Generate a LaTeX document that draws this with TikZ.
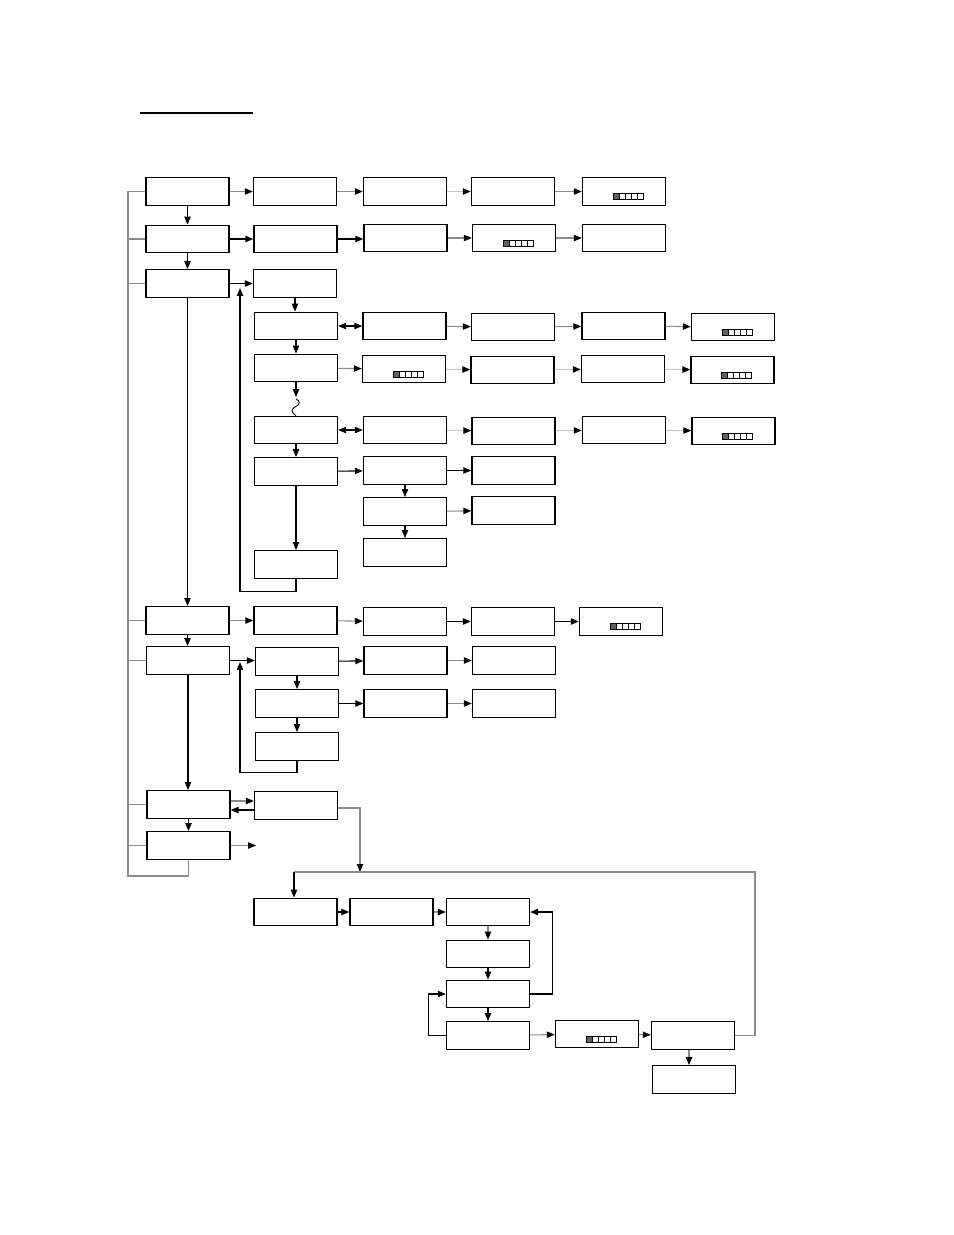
\documentclass[tikz,border=0pt]{standalone}
\usetikzlibrary{arrows.meta, calc}
\definecolor{lngray}{RGB}{140,140,140}
\definecolor{lnlight}{RGB}{200,200,200}
\definecolor{gaugegray}{RGB}{96,96,96}

\tikzset{
  box/.style={draw, line width=0.8pt, minimum width=1.66cm, minimum height=0.55cm, inner sep=0pt},
  arr/.style={line width=0.6pt, -{Triangle[length=4.5pt, width=3.6pt, color=black]}},
  garr/.style={arr, lngray},
  larr/.style={arr, lnlight},
  dbl/.style={line width=0.6pt, {Triangle[length=4.5pt, width=3.6pt, color=black]}-{Triangle[length=4.5pt, width=3.6pt, color=black]}},
  trunk/.style={line width=0.9pt, lngray},
  gauge/.pic={
    \fill[gaugegray] (-11,2) rectangle (-5,8);
    \foreach \i in {0,...,4}
      \draw[line width=0.5pt] ({-11+6*\i},2) rectangle ++(6,6);
  }
}

\begin{document}
\begin{tikzpicture}[x=0.02cm, y=-0.02cm]
  \useasboundingbox (0,0) rectangle (954,1235);

  % title rule
  \draw[line width=1.1pt] (140,113) -- (253,113);

  % --- Main column ---
  \node[box] (L1) at (187.5,191.5) {};
  \node[box] (L2) at (187.5,239) {};
  \node[box] (L3) at (187.5,283.5) {};
  \node[box] (L4) at (187.5,620.5) {};
  \node[box] (L5) at (188,660.5) {};
  \node[box] (L6) at (188.5,804.5) {};
  \node[box] (L7) at (188.5,845.5) {};

  \draw[arr] (L1) -- (L2);
  \draw[arr] (L2) -- (L3);
  \draw[arr] (L3) -- (L4);
  \draw[arr] (L4.south) -- (L5.north -| L4.south);
  \draw[arr] (L5.south) -- (L6.north -| L5.south);
  \draw[arr] (L6) -- (L7);

  % trunk on the left
  \coordinate (trunk) at (128,0);
  \draw[trunk] (L7.south) |- (128,876) -- (L1.west -| trunk) -- (L1.west);
  \foreach \n in {L2,L3,L4,L5,L6,L7}
    \draw[trunk] (\n.west -| trunk) -- (\n.west);

  % --- Row 1 ---
  \node[box] (A2) at (295,191.5) {};
  \node[box] (A3) at (405,191.5) {};
  \node[box] (A4) at (513,191.5) {};
  \node[box] (A5) at (624,191.5) {};
  \pic at (A5) {gauge};
  \draw[garr] (L1) -- (A2);
  \draw[garr] (A2) -- (A3);
  \draw[larr] (A3) -- (A4);
  \draw[garr] (A4) -- (A5);

  % --- Row 2 ---
  \node[box] (B2) at (295.5,239) {};
  \node[box] (B3) at (405.5,238) {};
  \node[box] (B4) at (514,238) {};
  \node[box] (B5) at (624,238) {};
  \pic at (B4) {gauge};
  \draw[arr] (L2) -- (B2);
  \draw[arr] (B2.east) -- (B3.west |- B2.east);
  \draw[garr] (B3) -- (B4);
  \draw[garr] (B4) -- (B5);

  % --- Row 3: submenu ---
  \node[box] (C1) at (295,283.5) {};
  \node[box] (C2) at (296,326) {};
  \node[box] (C3) at (296,368) {};
  \node[box] (C4) at (296,430) {};
  \node[box] (C5) at (296,471.5) {};
  \node[box] (C7) at (296,564.5) {};

  \node[box] (D2) at (404.5,326) {};
  \node[box] (E2) at (513,327) {};
  \node[box] (F2) at (623.5,326) {};
  \node[box] (G2) at (733,327) {};
  \pic at (G2) {gauge};

  \node[box] (D3) at (404,369) {};
  \node[box] (E3) at (512.5,370) {};
  \node[box] (F3) at (623,369) {};
  \node[box] (G3) at (732.5,370) {};
  \pic at (D3) {gauge};
  \pic at (G3) {gauge};

  \node[box] (D4) at (405,430) {};
  \node[box] (E4) at (513.5,431) {};
  \node[box] (F4) at (624,430) {};
  \node[box] (G4) at (733.5,431) {};
  \pic at (G4) {gauge};

  \node[box] (D5) at (405,470.5) {};
  \node[box] (E5) at (513.5,470.5) {};
  \node[box] (D6) at (405,511.5) {};
  \node[box] (E6) at (513.5,510.5) {};
  \node[box] (D7) at (405,552.5) {};

  \draw[arr] (L3) -- (C1);
  \draw[arr] (C1.south) -- (C2.north -| C1.south);
  \draw[arr] (C2) -- (C3);
  \coordinate (brk) at (296,397);
  \draw[arr] (C3.south) -- (brk);
  \draw[line width=0.5pt] (296,399) .. controls (301,401) and (300,405) .. (295,407)
    .. controls (291,409) and (291,413) .. (C4.north);
  \draw[arr] (C4) -- (C5);
  \draw[arr] (C5) -- (C7);

  \draw[dbl] (C2) -- (D2);
  \draw[garr] (D2) -- (E2);
  \draw[garr] (E2) -- (F2);
  \draw[garr] (F2) -- (G2);

  \draw[garr] (C3) -- (D3);
  \draw[larr] (D3) -- (E3);
  \draw[larr] (E3) -- (F3);
  \draw[larr] (F3) -- (G3);

  \draw[dbl] (C4) -- (D4);
  \draw[larr] (D4) -- (E4);
  \draw[larr] (E4) -- (F4);
  \draw[larr] (F4) -- (G4);

  \draw[arr] (C5) -- (D5);
  \draw[arr] (D5) -- (E5);
  \draw[arr] (D5) -- (D6);
  \draw[garr] (D6) -- (E6);
  \draw[arr] (D6) -- (D7);

  % back to row 3
  \coordinate (cin) at (240,288);
  \draw[arr] (C7.south) -- ++(0,13) -| (cin);

  % --- Row 4 ---
  \node[box] (P2) at (295.5,620.5) {};
  \node[box] (P3) at (405,621.5) {};
  \node[box] (P4) at (513,621.5) {};
  \node[box] (P5) at (621,621.5) {};
  \pic at (P5) {gauge};
  \draw[garr] (L4) -- (P2);
  \draw[garr] (P2) -- (P3);
  \draw[arr] (P3) -- (P4);
  \draw[arr] (P4) -- (P5);

  % --- Row 5 ---
  \node[box] (Q1) at (297,661.5) {};
  \node[box] (Q2) at (297,703.5) {};
  \node[box] (Q3) at (297,746.5) {};
  \node[box] (R1) at (405.5,660.5) {};
  \node[box] (R2) at (514,660.5) {};
  \node[box] (S1) at (405.5,703.5) {};
  \node[box] (S2) at (514,703.5) {};
  \draw[arr] (L5.east) -- (Q1.west |- L5.east);
  \draw[arr] (Q1) -- (Q2);
  \draw[arr] (Q2) -- (Q3);
  \draw[arr] (Q1) -- (R1);
  \draw[garr] (R1) -- (R2);
  \draw[arr] (Q2) -- (S1);
  \draw[garr] (S1) -- (S2);
  \coordinate (qin) at (240,662);
  \draw[arr] (Q3.south) -- ++(0,12) -| (qin);

  % --- Row 6 and 7 ---
  \node[box] (T1) at (296,805.5) {};
  \draw[garr] ($(L6.east)+(0,-3.5)$) -- ($(T1.west)+(0,-4.5)$);
  \draw[arr] ($(T1.west)+(0,4.5)$) -- ($(L6.east)+(0,5.5)$);
  \coordinate (L7out) at (256,845.5);
  \draw[garr] (L7) -- (L7out);

  % --- Lower sequence ---
  \node[box] (U1) at (295.5,912) {};
  \node[box] (U2) at (391.5,912) {};
  \node[box] (U3) at (488,912) {};
  \node[box] (U4) at (488,954) {};
  \node[box] (U5) at (488,994) {};
  \node[box] (U6) at (488,1035.5) {};
  \node[box] (V1) at (597,1034) {};
  \node[box] (W1) at (693,1035.5) {};
  \node[box] (W2) at (694,1079.5) {};
  \pic at (V1) {gauge};

  \coordinate (jn) at (294,872);
  \coordinate (jin) at (360,872);
  \draw[garr] ($(T1.east)+(0,2.5)$) -| (jin);
  \draw[trunk] (W1.east) -- ++(20,0) |- (jn);
  \draw[arr] (jn) -- (U1.north -| jn);

  \draw[arr] (U1) -- (U2);
  \draw[garr] (U2) -- (U3);
  \draw[garr] (U3) -- (U4);
  \draw[arr] (U4) -- (U5);
  \draw[arr] (U5) -- (U6);
  \draw[arr] (U5.east) -- ++(22,0) |- (U3.east);
  \draw[arr] (U6.west) -- ++(-17,0) |- (U5.west);
  \draw[garr] (U6) -- (V1);
  \draw[garr] (V1) -- (W1);
  \draw[garr] (W1.south -| 689,0) -- (W2.north -| 689,0);
\end{tikzpicture}
\end{document}
